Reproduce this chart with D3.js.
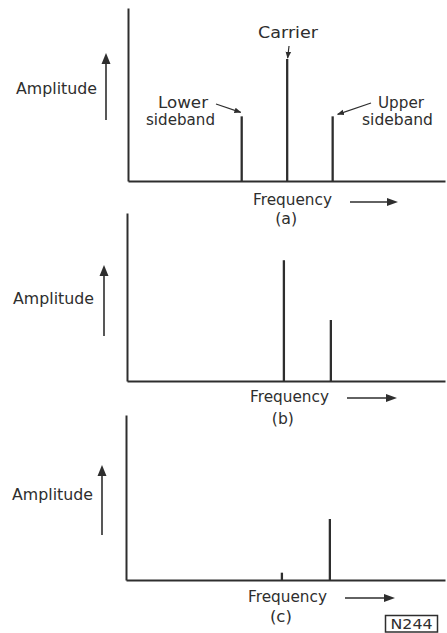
<!DOCTYPE html>
<html><head><meta charset="utf-8">
<script src="https://cdn.jsdelivr.net/npm/d3@7"></script>
<style>
  body { margin: 0; background: #fff; }
  svg { display: block; }
  text { font-family: "DejaVu Sans", "Noto Sans", sans-serif; fill: #2e2e2e; }
</style>
</head><body>
<svg id="chart" width="447" height="633"></svg>
<script>
// Spectrum components: offsets from the carrier in modulating-frequency units
const panelLabels = ["(a)", "(b)", "(c)"];
const components = ["Lower sideband", "Carrier", "Upper sideband"];
const freqOffsets = [-1, 0, 1];
// Relative amplitudes (carrier in (a) = 1)
const amplitudeA = [0.53, 1.0, 0.53];
const amplitudeB = [0, 0.99, 0.5];
const amplitudeC = [0, 0.06, 0.5];
const yTitle = "Amplitude";
const xTitle = "Frequency";
const figureCode = "N244";

const series = [amplitudeA, amplitudeB, amplitudeC];
const ink = "#2e2e2e";
const pxPerUnit = 122;
const fs = 15.5;

// Frame geometry of the three stacked spectra
const frames = [
  { left: 128, right: 445, base: 181, top: 8,   xLo: -3.5,  xHi: 3.47, ampX: 16, ampBase: 94,  arrowX: 106, arrowTop: 53,  arrowBot: 120, freqX: 253, freqBase: 205, fArrowY: 202, fArrowX0: 350, fArrowX1: 398, capBase: 224 },
  { left: 127, right: 445, base: 381, top: 213, xLo: -3.34, xHi: 3.43, ampX: 13, ampBase: 304, arrowX: 104, arrowTop: 265, arrowBot: 336, freqX: 250, freqBase: 402, fArrowY: 398, fArrowX0: 347, fArrowX1: 397, capBase: 424 },
  { left: 126, right: 445, base: 580, top: 415, xLo: -3.25, xHi: 3.4,  ampX: 12, ampBase: 500, arrowX: 102, arrowTop: 465, arrowBot: 535, freqX: 248, freqBase: 602, fArrowY: 598, fArrowX0: 345, fArrowX1: 395, capBase: 622 }
];

const svg = d3.select("#chart");

svg.append("defs").append("marker")
  .attr("id", "tip")
  .attr("viewBox", "0 0 10 10")
  .attr("refX", 9).attr("refY", 5)
  .attr("markerWidth", 7).attr("markerHeight", 7)
  .attr("markerUnits", "userSpaceOnUse")
  .attr("orient", "auto")
  .append("path").attr("d", "M0,1 L10,5 L0,9 Z").attr("fill", ink);

function arrowHead(g, x, y, dir, len, half) {
  // dir: "up" or "right"; tip at (x, y)
  const pts = dir === "up"
    ? [[x, y], [x - half, y + len], [x + half, y + len]]
    : [[x, y], [x - len, y - half], [x - len, y + half]];
  g.append("path").attr("d", d3.line()(pts) + "Z").attr("fill", ink);
}

function label(g, str, x, y, width, anchor, size) {
  return g.append("text").attr("x", x).attr("y", y)
    .attr("text-anchor", anchor || "start")
    .attr("font-size", size || fs)
    .attr("textLength", width).attr("lengthAdjust", "spacingAndGlyphs")
    .text(str);
}

frames.forEach((f, i) => {
  const g = svg.append("g");
  const x = d3.scaleLinear().domain([f.xLo, f.xHi]).range([f.left, f.right]);
  const y = d3.scaleLinear().domain([0, (f.base - f.top) / pxPerUnit]).range([f.base, f.top]);

  // Axes without ticks
  const yAxis = g.append("g").attr("transform", `translate(${f.left},0)`)
    .call(d3.axisLeft(y).tickValues([]).tickSizeOuter(0));
  const xAxis = g.append("g").attr("transform", `translate(0,${f.base})`)
    .call(d3.axisBottom(x).tickValues([]).tickSizeOuter(0));
  [yAxis, xAxis].forEach(a => a.select(".domain").attr("stroke", ink).attr("stroke-width", 2));

  // Spectral lines
  const data = freqOffsets.map((fo, k) => ({ name: components[k], f: fo, a: series[i][k] }))
    .filter(d => d.a > 0);
  g.selectAll("line.spec").data(data).join("line")
    .attr("class", "spec")
    .attr("x1", d => x(d.f)).attr("x2", d => x(d.f))
    .attr("y1", y(0)).attr("y2", d => y(d.a))
    .attr("stroke", ink).attr("stroke-width", 2.3);

  // Axis titles and arrows
  label(g, yTitle, f.ampX, f.ampBase, 81);
  g.append("line").attr("x1", f.arrowX).attr("x2", f.arrowX)
    .attr("y1", f.arrowBot).attr("y2", f.arrowTop + 8)
    .attr("stroke", ink).attr("stroke-width", 1.6);
  arrowHead(g, f.arrowX, f.arrowTop, "up", 11, 4.5);

  label(g, xTitle, f.freqX, f.freqBase, 79);
  g.append("line").attr("x1", f.fArrowX0).attr("x2", f.fArrowX1 - 8)
    .attr("y1", f.fArrowY).attr("y2", f.fArrowY)
    .attr("stroke", ink).attr("stroke-width", 1.6);
  arrowHead(g, f.fArrowX1, f.fArrowY, "right", 11, 4);

  label(g, panelLabels[i], x(0) - 1, f.capBase, 22, "middle");

  // Component annotations on the first spectrum
  if (i === 0) {
    const byName = Object.fromEntries(data.map(d => [d.name, d]));
    const lo = byName["Lower sideband"], ca = byName["Carrier"], up = byName["Upper sideband"];

    label(g, "Lower", 208, 108, 50, "end");
    label(g, "sideband", 215, 125, 69, "end");
    label(g, "Carrier", 258, 38, 60);
    label(g, "Upper", 378, 108, 46);
    label(g, "sideband", 362, 125, 71);

    const leaders = [
      { x1: 216, y1: 104, x2: x(lo.f) - 1, y2: y(lo.a) - 4 },
      { x1: 289, y1: 46,  x2: x(ca.f) + 0.5, y2: y(ca.a) - 1 },
      { x1: 371, y1: 103, x2: x(up.f) + 5, y2: y(up.a) - 2 }
    ];
    g.selectAll("line.leader").data(leaders).join("line")
      .attr("class", "leader")
      .attr("x1", d => d.x1).attr("y1", d => d.y1)
      .attr("x2", d => d.x2).attr("y2", d => d.y2)
      .attr("stroke", ink).attr("stroke-width", 1.2)
      .attr("marker-end", "url(#tip)");
  }
});

// Figure reference code in a box
const code = svg.append("g");
code.append("rect").attr("x", 385.5).attr("y", 615.5).attr("width", 52).attr("height", 16.5)
  .attr("fill", "none").attr("stroke", ink).attr("stroke-width", 1.5);
label(code, figureCode, 411.5, 629, 42, "middle", 13.5);
</script>
</body></html>
